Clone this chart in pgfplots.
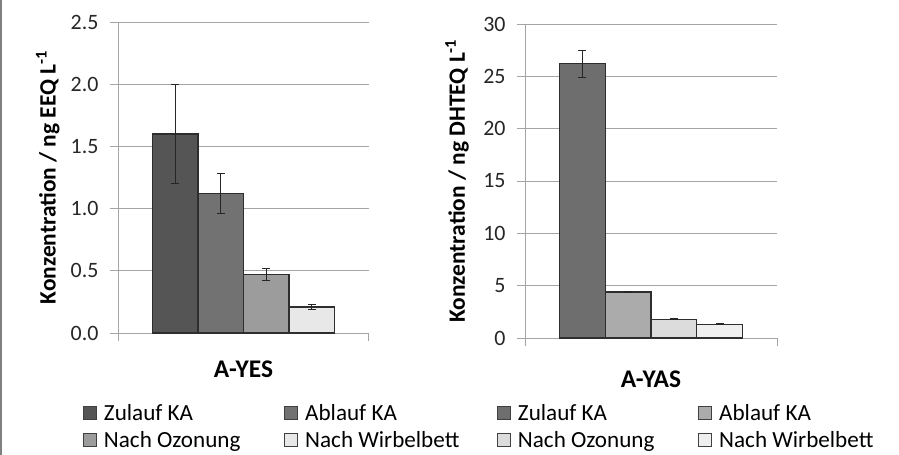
\documentclass[border=0pt]{standalone}
\usepackage{fontspec}
\setmainfont{Carlito}
\usepackage{pgfplots}
\pgfplotsset{compat=1.18}

\definecolor{gridc}{HTML}{A4A4A4}
\definecolor{lA}{HTML}{555555}
\definecolor{lB}{HTML}{727272}
\definecolor{lC}{HTML}{9C9C9C}
\definecolor{lD}{HTML}{E8E8E8}
\definecolor{rA}{HTML}{6E6E6E}
\definecolor{rB}{HTML}{ABABAB}
\definecolor{rC}{HTML}{DCDCDC}
\definecolor{rD}{HTML}{EFEFEF}

\pgfplotsset{
  barchart/.style={
    scale only axis,
    ybar=0pt, bar width=1,
    axis x line*=bottom, axis y line*=left,
    axis line style={gridc, line width=1bp, -},
    ymajorgrids, grid style={gridc, line width=1bp},
    tick align=outside, major tick length=8bp,
    tick style={gridc, line width=1bp},
    xticklabels={},
    yticklabel style={font=\fontsize{22}{24}\selectfont, text=black!85, xshift=-8bp},
    /pgf/number format/assume math mode=true,
    every axis plot/.append style={draw=black!82, line width=1.3bp},
    error bars/y dir=both, error bars/y explicit,
    error bars/error bar style={line width=1bp, black!85},
    error bars/error mark options={rotate=90, mark size=4bp, line width=1bp, black!85},
    legend columns=2, legend cell align=left,
    legend image code/.code={\draw[#1, draw=black!75, line width=0.8bp] (0bp,-6bp) rectangle (13bp,7bp);},
    legend style={draw=none, fill=none, font=\fontsize{23.2}{26}\selectfont,
      row sep=6bp, inner sep=0pt,
      /tikz/every odd column/.append style={column sep=5bp},
      /tikz/every even column/.append style={column sep=42bp}},
    ylabel style={anchor=center, font=\bfseries\fontsize{23.5}{26}\selectfont},
    xlabel style={anchor=center, font=\bfseries\fontsize{25.5}{28}\selectfont},
  },
}

\begin{document}
\begin{tikzpicture}
\useasboundingbox (0,0) rectangle (899bp,-455bp);
\draw[gray, line width=1.2bp] (1bp,0) -- (1bp,-455bp);

% A-YES
\begin{axis}[barchart,
    at={(118bp,-333bp)}, anchor=south west,
    width=251bp, height=311bp,
    xmin=-2.76, xmax=2.76, xtick={-2.76,2.76},
    ymin=0, ymax=2.5, ytick={0,0.5,1,1.5,2,2.5},
    yticklabel style={/pgf/number format/.cd, fixed, fixed zerofill, precision=1},
    ylabel={Konzentration / ng EEQ L\textsuperscript{-1}},
    ylabel style={at={(axis description cs:-0.28,0.5)}},
    xlabel={A-YES},
    xlabel style={at={(axis description cs:0.5,0)}, yshift=-36bp},
    legend style={at={(axis description cs:0,0)}, anchor=north west, xshift=-35bp, yshift=-69bp},
  ]
  \addplot[fill=lA] coordinates {(0,1.60) +- (0,0.40)};
  \addplot[fill=lB] coordinates {(0,1.12) +- (0,0.16)};
  \addplot[fill=lC] coordinates {(0,0.47) +- (0,0.05)};
  \addplot[fill=lD] coordinates {(0,0.21) +- (0,0.02)};
  \legend{Zulauf KA, Ablauf KA, Nach Ozonung, Nach Wirbelbett}
\end{axis}

% A-YAS
\begin{axis}[barchart,
    at={(525bp,-338bp)}, anchor=south west,
    width=252bp, height=314bp,
    xmin=-2.755, xmax=2.755, xtick={-2.755,2.755},
    ymin=0, ymax=30, ytick={0,5,10,15,20,25,30},
    ylabel={Konzentration / ng DHTEQ L\textsuperscript{-1}},
    ylabel style={at={(axis description cs:-0.27,0.5)}},
    xlabel={A-YAS},
    xlabel style={at={(axis description cs:0.5,0)}, yshift=-41bp},
    legend style={at={(axis description cs:0,0)}, anchor=north west, xshift=-28bp, yshift=-64bp},
  ]
  \addplot[fill=rA] coordinates {(0,26.2) +- (0,1.3)};
  \addplot[fill=rB] coordinates {(0,4.4) +- (0,0.08)};
  \addplot[fill=rC] coordinates {(0,1.8) +- (0,0.05)};
  \addplot[fill=rD] coordinates {(0,1.3) +- (0,0.05)};
  \legend{Zulauf KA, Ablauf KA, Nach Ozonung, Nach Wirbelbett}
\end{axis}
\end{tikzpicture}
\end{document}
